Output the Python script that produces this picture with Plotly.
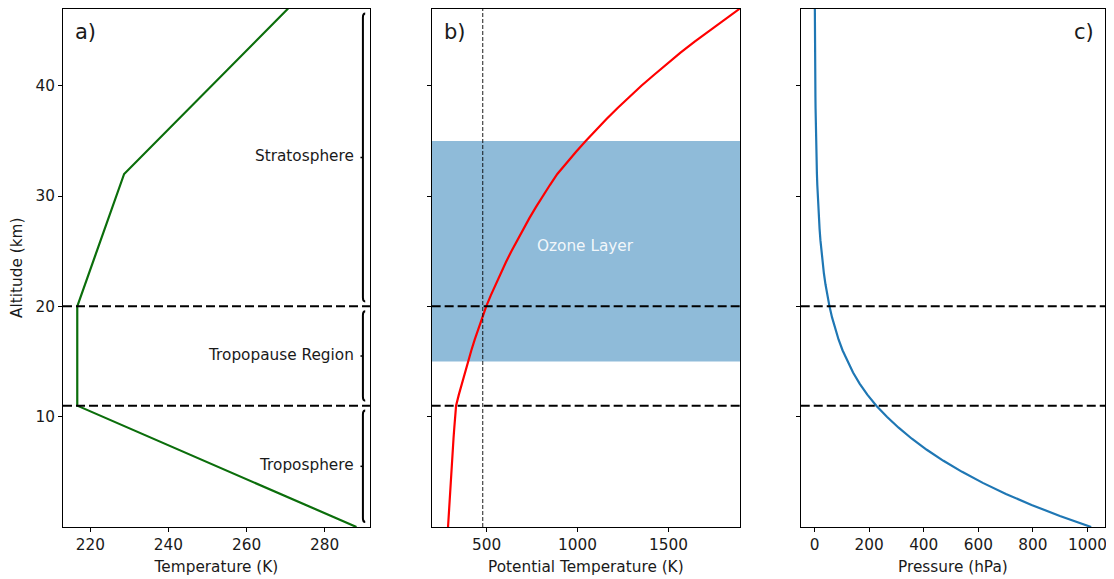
import plotly.graph_objects as go

# ---------------- data ----------------
temp_alt = [0, 11, 20, 32, 47]
temp_k = [288.15, 216.65, 216.65, 228.65, 270.65]

alt = list(range(0, 48))
theta_k = [287.1, 290.4, 293.8, 297.4, 301.0, 304.8, 308.8, 312.9, 317.2, 321.6,
           326.2, 331.4, 346.6, 362.7, 379.4, 396.9, 415.2, 434.3, 454.5, 475.3,
           497.3, 522.5, 549.0, 576.7, 605.5, 635.8, 667.4, 700.4, 734.9, 770.8,
           808.4, 847.8, 888.7, 938.7, 990.7, 1044.9, 1101.7, 1160.7, 1222.0,
           1285.9, 1351.3, 1421.7, 1492.8, 1566.6, 1644.5, 1725.5, 1808.0, 1894.0]
pressure_hpa = [1013.3, 898.8, 795.0, 701.1, 616.4, 540.5, 472.2, 411.1, 356.5,
                308.0, 265.0, 226.3, 193.3, 165.1, 141.0, 120.4, 102.9, 87.9,
                75.0, 64.1, 54.7, 46.8, 40.0, 34.2, 29.3, 25.1, 21.5, 18.5, 15.9,
                13.6, 11.7, 10.1, 8.7, 7.5, 6.5, 5.6, 4.8, 4.2, 3.7, 3.2, 2.8,
                2.4, 2.1, 1.9, 1.6, 1.4, 1.3, 1.1]

region_bounds = [0, 11, 20, 47]
region_names = ["Troposphere", "Tropopause Region", "Stratosphere"]
boundary_lines = [11, 20]
ozone_range = [15, 35]
ozone_label = "Ozone Layer"
theta_ref = 478
panel_labels = ["a)", "b)", "c)"]

y_ticks = [10, 20, 30, 40]
temp_ticks = [220, 240, 260, 280]
theta_ticks = [500, 1000, 1500]
press_ticks = [0, 200, 400, 600, 800, 1000]

# ---------------- figure ----------------
FONT = "DejaVu Sans"
TXT = "#1a1a1a"
FS = 15.3
fig = go.Figure()

fig.add_trace(go.Scatter(x=temp_k, y=temp_alt, mode="lines",
                         line=dict(color="#0b6e0b", width=2.2), xaxis="x", yaxis="y",
                         showlegend=False, hoverinfo="skip"))
fig.add_trace(go.Scatter(x=theta_k, y=alt, mode="lines",
                         line=dict(color="#ff0000", width=2.2), xaxis="x2", yaxis="y2",
                         showlegend=False, hoverinfo="skip"))
fig.add_trace(go.Scatter(x=pressure_hpa, y=alt, mode="lines",
                         line=dict(color="#1f77b4", width=2.2), xaxis="x3", yaxis="y3",
                         showlegend=False, hoverinfo="skip"))

shapes = []
shapes.append(dict(type="rect", xref="x2 domain", yref="y2", x0=0, x1=1,
                   y0=ozone_range[0], y1=ozone_range[1],
                   fillcolor="rgba(31,119,180,0.5)", line=dict(width=0), layer="below"))
for ax in ["", "2", "3"]:
    for b in boundary_lines:
        shapes.append(dict(type="line", xref=f"x{ax} domain", yref=f"y{ax}",
                           x0=0, x1=1, y0=b, y1=b,
                           line=dict(color="black", width=2, dash="9px,4px")))
shapes.append(dict(type="line", xref="x2", yref="y2 domain", x0=theta_ref, x1=theta_ref,
                   y0=0, y1=1, line=dict(color="rgba(0,0,0,0.75)", width=1.2, dash="4px,2px")))

bx = 0.977
hk = 0.0075
pad = 0.45
annotations = []
for i, name in enumerate(region_names):
    lo = region_bounds[i] + pad
    hi = region_bounds[i + 1] - pad
    mid = (region_bounds[i] + region_bounds[i + 1]) / 2
    path = (f"M {bx + hk},{hi} Q {bx},{hi} {bx},{hi - 0.35} "
            f"L {bx},{lo + 0.35} Q {bx},{lo} {bx + hk},{lo}")
    shapes.append(dict(type="path", xref="x domain", yref="y", path=path,
                       line=dict(color="black", width=2)))
    shapes.append(dict(type="line", xref="x domain", yref="y", x0=bx - 0.008, x1=bx,
                       y0=mid, y1=mid, line=dict(color="black", width=1.5)))
    annotations.append(dict(text=name, xref="x domain", yref="y", x=0.953, y=mid,
                            xanchor="right", yanchor="middle", showarrow=False,
                            yshift=1,
                            font=dict(family=FONT, size=FS, color=TXT)))

annotations.append(dict(text=ozone_label, xref="x2 domain", yref="y2", x=0.5,
                        y=(ozone_range[0] + ozone_range[1]) / 2, showarrow=False,
                        xanchor="center", yanchor="middle", yshift=5,
                        font=dict(family=FONT, size=FS, color="rgba(255,255,255,0.9)")))

for ax, lab, xpos, anc in [("", panel_labels[0], 0.033, "left"),
                           ("2", panel_labels[1], 0.033, "left"),
                           ("3", panel_labels[2], 0.97, "right")]:
    annotations.append(dict(text=lab, xref=f"x{ax} domain", yref=f"y{ax} domain",
                            x=xpos, y=0.955, xanchor=anc, yanchor="middle",
                            showarrow=False, font=dict(family=FONT, size=21, color=TXT)))

axis_common = dict(showline=True, mirror=True, linecolor="black", linewidth=1,
                   ticks="outside", ticklen=4, tickwidth=1, tickcolor="black",
                   showgrid=False, zeroline=False, ticklabeloverflow="allow",
                   tickfont=dict(family=FONT, size=FS, color=TXT))

# page body has an 8px margin, so the figure is offset by 8px
fig.update_layout(
    width=1098, height=571,
    margin=dict(l=55, r=1, t=0, b=52),
    paper_bgcolor="white", plot_bgcolor="white",
    showlegend=False,
    shapes=shapes, annotations=annotations,
    xaxis=dict(domain=[0, 0.2946], range=[213.0, 291.6], tickvals=temp_ticks,
               title=dict(text="Temperature (K)", standoff=7,
                          font=dict(family=FONT, size=FS, color=TXT)),
               anchor="y", **axis_common),
    xaxis2=dict(domain=[0.3538, 0.6497], range=[197, 1894], tickvals=theta_ticks,
                title=dict(text="Potential Temperature (K)", standoff=7,
                           font=dict(family=FONT, size=FS, color=TXT)),
                anchor="y2", **axis_common),
    xaxis3=dict(domain=[0.708, 1.0], range=[-50.6, 1064], tickvals=press_ticks,
                title=dict(text="Pressure (hPa)", standoff=7,
                           font=dict(family=FONT, size=FS, color=TXT)),
                anchor="y3", **axis_common),
    yaxis=dict(domain=[0, 0.999], range=[0, 47], tickvals=y_ticks, anchor="x",
               title=dict(text="Altitude (km)", standoff=10,
                          font=dict(family=FONT, size=FS, color=TXT)),
               **axis_common),
    yaxis2=dict(domain=[0, 0.999], range=[0, 47], tickvals=y_ticks, anchor="x2",
                showticklabels=False, **axis_common),
    yaxis3=dict(domain=[0, 0.999], range=[0, 47], tickvals=y_ticks, anchor="x3",
                showticklabels=False, **axis_common),
)

fig.write_html("out.html")
